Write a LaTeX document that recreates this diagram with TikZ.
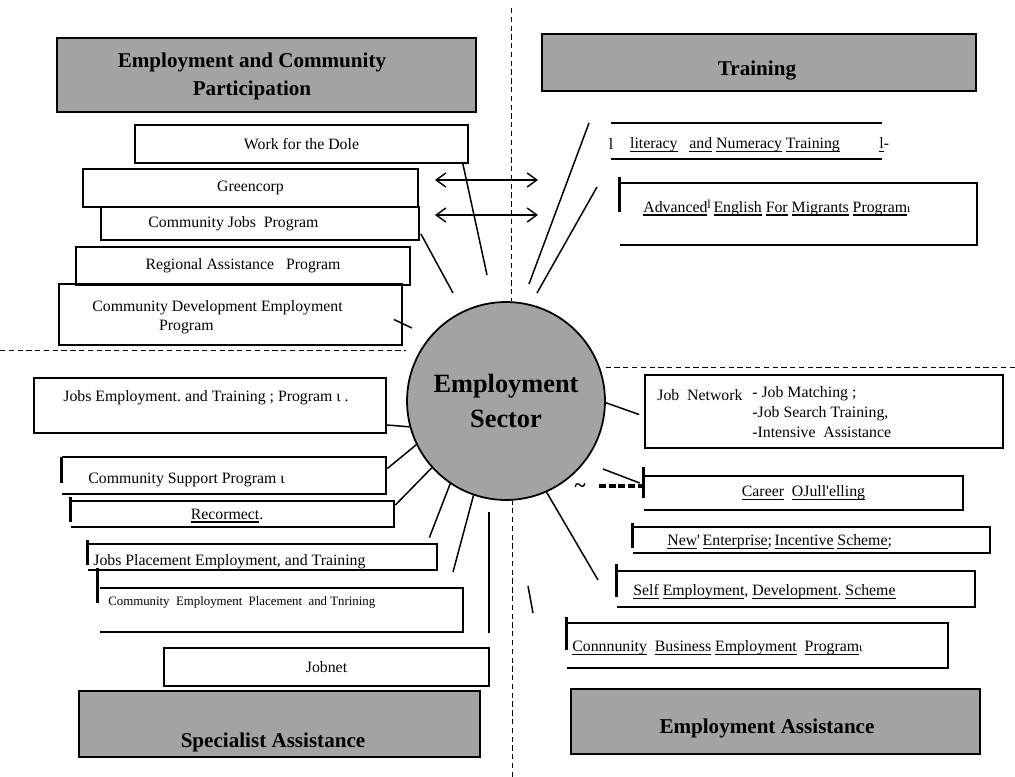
\documentclass[tikz,border=0pt]{standalone}
\usepackage{fontspec}
\setmainfont{Liberation Serif}
\usepackage{tikz}
\usetikzlibrary{arrows.meta,fit,calc}
\definecolor{shadegray}{gray}{0.64}
\newsavebox{\uwordbox}
\newcommand{\uword}[1]{\sbox{\uwordbox}{#1}\rlap{\rule[-2pt]{\wd\uwordbox}{0.9pt}}\usebox{\uwordbox}}

\begin{document}
\begin{tikzpicture}[
    x=0.02cm, y=-0.02cm,
    box/.style={draw, line width=1pt, inner sep=0pt},
    openbox/.style={inner sep=0pt},
    inbox/.style={label={[txt]center:#1}},
    head/.style={draw, line width=1pt, fill=shadegray, inner sep=0pt},
    title/.style={inner sep=0pt, align=center, font=\bfseries\fontsize{12}{16}\selectfont},
    hub/.style={circle, draw, line width=1pt, fill=shadegray, minimum size=3.96cm, inner sep=0pt, align=center, font=\bfseries\fontsize{15}{20}\selectfont},
    txt/.style={inner sep=0pt, font=\fontsize{9}{11}\selectfont},
    frame/.style={line width=1pt},
    bar/.style={line width=1.8pt},
    spoke/.style={line width=0.85pt},
    divider/.style={line width=0.5pt, dash pattern=on 3pt off 2pt},
    heavydash/.style={line width=2pt, dash pattern=on 4pt off 1.5pt},
    twoway/.style={{Straight Barb[length=5.5pt,width=8pt]}-{Straight Barb[length=5.5pt,width=8pt]}, line width=0.8pt}
]
    \useasboundingbox (0,0) rectangle (1015,777);

    % centre
    \node[hub] (hub) at (506,401) {Employment\\Sector};

    % quarter lines
    \coordinate (vtop) at (511,8);
    \coordinate (vbot) at (512,777);
    \coordinate (hleft) at (0,350);
    \coordinate (hright) at (1015,367);
    \draw[divider] (vtop) -- (vtop |- hub.north);
    \draw[divider] (vbot) -- (vbot |- hub.south);
    \draw[divider] (hleft) -- (hleft -| hub.west);
    \draw[divider] (hright) -- (hright -| hub.east);

    % headings
    \node[head, fit={(57,38) (476,112)}] (partic) {};
    \node[title] (partictext) at (252,76) {Employment and Community\\Participation};
    \node[head, fit={(542,34) (976,91)}] (training) {};
    \node[title] (trainingtext) at (757,71) {Training};
    \node[head, fit={(79,691) (480,757)}] (specialist) {};
    \node[title] (specialisttext) at (273,742) {Specialist Assistance};
    \node[head, fit={(571,689) (980,754)}] (empassist) {};
    \node[title] (empassisttext) at (767,728) {Employment Assistance};

    % employment and community participation
    \node[box, fit={(135,125) (468,163)}, inbox={Work for the Dole}] (dole) {};
    \node[box, fit={(83,169) (418,207)}, inbox={Greencorp}] (greencorp) {};
    \node[box, fit={(101,207) (419,240)}] (cjp) {};
    \node[txt, anchor=west] (cjptext) at (148,224) {Community Jobs\ \ Program};
    \node[box, fit={(76,247) (410,285)}, inbox={Regional Assistance\ \ \ Program}] (rap) {};
    \node[box, fit={(59,284) (402,345)}] (cdep) {};
    \node[txt, anchor=west, align=left, font=\fontsize{9}{10.5}\selectfont] (cdeptext) at (92,317) {Community Development Employment\\\hspace*{38pt}Program};

    % training
    \node[openbox, fit={(611,123) (882,159)}] (literacy) {};
    \draw[frame] (literacy.north west) -- (literacy.north east);
    \draw[frame] (literacy.south west) -- (literacy.south east);
    \node[txt] (literacytext) at (735,145) {\uword{literacy}\ \ \ \uword{and} \uword{Numeracy}\ \uword{Training}};
    \node[txt] (literacyl) at (611,144) {l};
    \node[txt, anchor=west] (literacyr) at (879,145) {\uword{l}-};
    \node[openbox, fit={(620,183) (977,245)}] (english) {};
    \draw[frame] (english.north west) -- (english.north east) -- (english.south east) -- (english.south west);
    \draw[bar] ([shift={(0,-6)}]english.north west) -- ([shift={(0,29)}]english.north west);
    \node[txt, anchor=west] (englishtext) at (643,208) {\uword{Advanced}{\scriptsize\raisebox{2pt}{l}}\,\uword{English}\ \uword{For}\ \uword{Migrants}\ \uword{Program}{\scriptsize ι}};

    % employment assistance
    \node[box, fit={(645,375) (1003,448)}] (jobnetwork) {};
    \node[txt, anchor=west] (jnlabel) at (657,395) {Job\ \ Network};
    \node[txt, anchor=north west, align=left, font=\fontsize{9}{11.3}\selectfont] (jnlist) at (752,386) {- Job Matching ;\\-Job Search Training,\\-Intensive\ \ Assistance};
    \node[openbox, fit={(644,476) (963,510)}, inbox={\uword{Career}\ \ \uword{OJull\textquotesingle elling}\ }] (career) {};
    \draw[frame] (career.north west) -- (career.north east) -- (career.south east) -- (career.south west);
    \draw[bar] ([shift={(0,-9)}]career.north west) -- ([shift={(0,22)}]career.north west);
    \node[openbox, fit={(633,527) (990,553)}] (neis) {};
    \draw[frame] (neis.north west) -- (neis.north east) -- (neis.south east) -- (neis.south west);
    \draw[bar] ([shift={(0,-4)}]neis.north west) -- ([shift={(0,21)}]neis.north west);
    \node[txt, anchor=west] (neistext) at (667,542) {\uword{New}\textquotesingle\,\uword{Enterprise};\,\uword{Incentive}\ \uword{Scheme};};
    \node[openbox, fit={(617,571) (975,607)}] (seds) {};
    \draw[frame] (seds.north west) -- (seds.north east) -- (seds.south east) -- (seds.south west);
    \draw[bar] ([shift={(0,-7)}]seds.north west) -- ([shift={(0,26)}]seds.north west);
    \node[txt, anchor=west] (sedstext) at (633,592) {\uword{Self}\ \uword{Employment}, \uword{Development}.\ \uword{Scheme}};
    \node[openbox, fit={(567,623) (948,668)}] (cbep) {};
    \draw[frame] (cbep.north west) -- (cbep.north east) -- (cbep.south east) -- (cbep.south west);
    \draw[bar] ([shift={(0,-6)}]cbep.north west) -- ([shift={(0,27)}]cbep.north west);
    \node[txt, anchor=west] (cbeptext) at (572,648) {\uword{Connnunity}\ \ \uword{Business}\ \uword{Employment}\ \ \uword{Program}{\scriptsize ι}};

    % specialist assistance
    \node[box, fit={(34,378) (386,433)}] (jetp) {};
    \node[txt, anchor=west] (jetptext) at (63,398) {Jobs Employment.\ and Training ; Program ι .};
    \node[openbox, fit={(62,457) (386,494)}] (csp) {};
    \draw[frame] (csp.north west) -- (csp.north east) -- (csp.south east) -- (csp.south west);
    \draw[bar] (csp.north west) -- ([shift={(0,26)}]csp.north west);
    \node[txt, anchor=west] (csptext) at (88,480) {Community\ Support\ Program ι};
    \node[openbox, fit={(71,501) (394,527)}] (recon) {};
    \draw[frame] (recon.north west) -- (recon.north east) -- (recon.south east) -- (recon.south west);
    \draw[bar] ([shift={(0,-4)}]recon.north west) -- ([shift={(0,21)}]recon.north west);
    \node[txt] (recontext) at (227,516) {\uword{Recormect}.};
    \node[openbox, fit={(88,544) (437,570)}] (jpet) {};
    \draw[frame] (jpet.north west) -- (jpet.north east) -- (jpet.south east) -- (jpet.south west);
    \draw[bar] ([shift={(0,-4)}]jpet.north west) -- ([shift={(0,21)}]jpet.north west);
    \node[txt, anchor=west] (jpettext) at (93,562) {Jobs Placement Employment, and Training};
    \node[openbox, fit={(100,588) (463,632)}] (cept) {};
    \draw[frame] (cept.north west) -- (cept.north east) -- (cept.south east) -- (cept.south west);
    \draw[bar] ([shift={(-2,-20)}]cept.north west) -- ([shift={(-2,15)}]cept.north west);
    \node[txt, anchor=west, font=\fontsize{7.3}{9}\selectfont] (cepttext) at (108,602) {Community\ \ Employment\ \ Placement\ \ and Tnrining};
    \node[box, fit={(164,648) (489,686)}, inbox={Jobnet}] (jobnetbox) {};

    % free ends
    \coordinate (doleend) at (487,275);
    \coordinate (cjpend) at (453,293);
    \coordinate (cdepend) at (412,328);
    \coordinate (trainA1) at (589,123);
    \coordinate (trainA2) at (529,284);
    \coordinate (trainB1) at (597,187);
    \coordinate (trainB2) at (537,293);
    \coordinate (careerend) at (603,469);
    \coordinate (dashA) at (599,486);
    \coordinate (neisend) at (598,580);
    \coordinate (cbepA) at (528,586);
    \coordinate (cbepB) at (533,613);
    \coordinate (ceptend) at (453,572);
    \coordinate (jobnetA) at (489,512);
    \coordinate (jobnetB) at (489,633);
    \coordinate (arrA1) at (435,180);
    \coordinate (arrA2) at (538,180);
    \coordinate (arrB1) at (435,215);
    \coordinate (arrB2) at (538,215);

    % spokes
    \draw[spoke] ([shift={(-6,0)}]dole.south east) -- (doleend);
    \draw[spoke] ([shift={(1,-7)}]cjp.south east) -- (cjpend);
    \draw[spoke] ([shift={(-9,5)}]cdep.east) -- (cdepend);
    \draw[spoke] (trainA1) -- (trainA2);
    \draw[spoke] (trainB1) -- (trainB2);
    \draw[spoke] (hub.-1) -- ([shift={(-5,3)}]jobnetwork.west);
    \draw[spoke] (careerend) -- ([shift={(-4,-10)}]career.west);
    \draw[heavydash] (dashA) -- (dashA -| career.west);
    \node[txt, font=\bfseries\fontsize{12}{12}\selectfont] (tilde) at (580,488) {\textasciitilde};
    \draw[spoke] (hub.-66) -- (neisend);
    \draw[spoke] (cbepA) -- (cbepB);
    \draw[spoke] ([shift={(0,19.5)}]jetp.east) -- (hub.195);
    \draw[spoke] ([shift={(1,-7)}]csp.east) -- (hub.206);
    \draw[spoke] ([shift={(1,-9)}]recon.east) -- (hub.222);
    \draw[spoke] ([shift={(-8,-6)}]jpet.north east) -- (hub.236);
    \draw[spoke] (ceptend) -- (hub.251);
    \draw[spoke] (jobnetA) -- (jobnetB);

    \draw[twoway] (arrA1) -- (arrA2);
    \draw[twoway] (arrB1) -- (arrB2);
\end{tikzpicture}
\end{document}
